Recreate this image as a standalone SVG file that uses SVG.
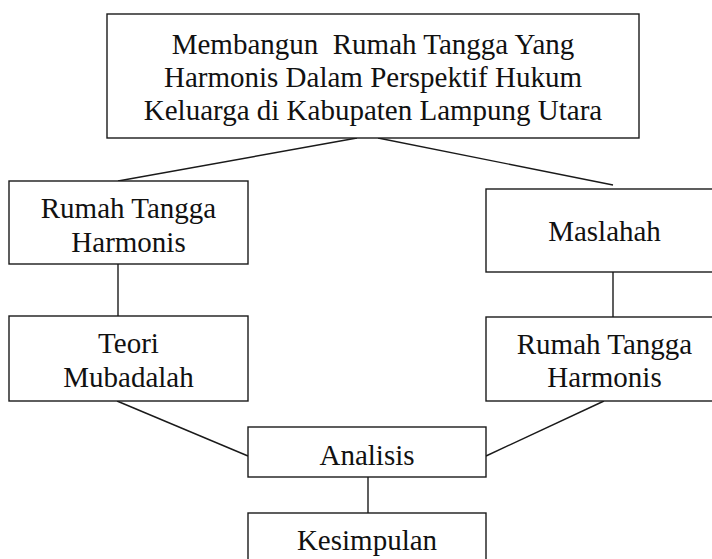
<svg xmlns="http://www.w3.org/2000/svg" width="712" height="559" viewBox="0 0 712 559">
<style>
rect{fill:#fff;stroke:#1a1a1a;stroke-width:1.4}
line{stroke:#1a1a1a;stroke-width:1.4}
text{font-family:"Liberation Serif","Times New Roman",serif;font-size:29px;fill:#111;text-anchor:middle;white-space:pre}
</style>
<rect x="0" y="0" width="712" height="559" style="stroke:none"/>
<g id="connectors">
<line x1="357" y1="138" x2="118" y2="181"/>
<line x1="378" y1="138" x2="613" y2="185"/>
<line x1="118" y1="264" x2="118" y2="316"/>
<line x1="613" y1="272" x2="613" y2="317"/>
<line x1="117" y1="401" x2="248" y2="456"/>
<line x1="604" y1="401" x2="486" y2="456"/>
<line x1="368" y1="477" x2="368" y2="513"/>
</g>
<g id="top">
<rect x="107" y="14" width="532" height="124"/>
<text x="373" y="54" xml:space="preserve">Membangun  Rumah Tangga Yang</text>
<text x="373" y="87">Harmonis Dalam Perspektif Hukum</text>
<text x="373" y="120">Keluarga di Kabupaten Lampung Utara</text>
</g>
<g id="rth-left">
<rect x="9" y="181" width="239" height="83"/>
<text x="128.5" y="218">Rumah Tangga</text>
<text x="128.5" y="252">Harmonis</text>
</g>
<g id="maslahah">
<rect x="486" y="189" width="240" height="83"/>
<text x="604.5" y="241">Maslahah</text>
</g>
<g id="teori">
<rect x="9" y="316" width="239" height="85"/>
<text x="128.5" y="353">Teori</text>
<text x="128.5" y="387">Mubadalah</text>
</g>
<g id="rth-right">
<rect x="486" y="317" width="240" height="84"/>
<text x="604.5" y="354">Rumah Tangga</text>
<text x="604.5" y="387">Harmonis</text>
</g>
<g id="analisis">
<rect x="248" y="427" width="238" height="50"/>
<text x="367" y="465">Analisis</text>
</g>
<g id="kesimpulan">
<rect x="248" y="513" width="238" height="60"/>
<text x="367" y="550">Kesimpulan</text>
</g>
</svg>
